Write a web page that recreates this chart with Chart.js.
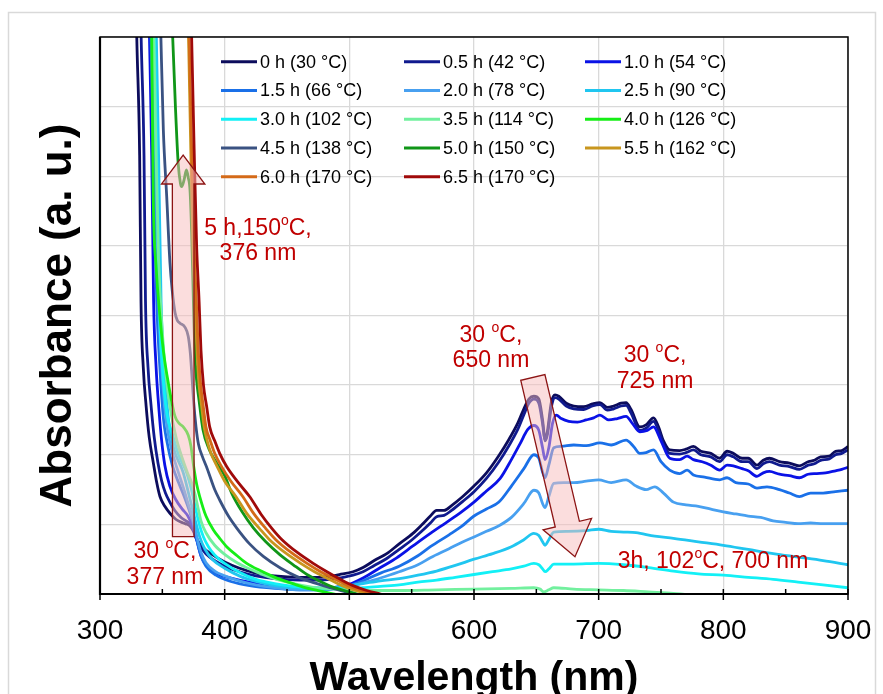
<!DOCTYPE html>
<html>
<head>
<meta charset="utf-8">
<script src="https://cdn.jsdelivr.net/npm/chart.js@4.4.1/dist/chart.umd.min.js"></script>
<style>
html, body { margin: 0; padding: 0; background: #fff; }
#wrap { width: 883px; height: 694px; }
</style>
</head>
<body>
<div id="wrap"><canvas id="absChart" width="883" height="694"></canvas></div>
<script>
// wavelength (nm) / absorbance (a. u.) pairs
const s0h = [[328.5,9],[329.5,8.0],[331.8,6.3],[332.9,4.2],[334.7,3.26],[337,2.7],[339.5,2.25],[342.8,1.88],[345.5,1.6],[348.1,1.40],[352,1.26],[356.1,1.16],[361,1.07],[366.8,1.02],[370,1.0],[372.5,0.97],[375,0.90],[377.6,0.78],[383,0.66],[388,0.59],[400,0.46],[412,0.37],[425,0.30],[440,0.26],[460,0.24],[475,0.24],[482,0.25],[492,0.28],[503,0.32],[511,0.38],[520,0.48],[530,0.58],[540,0.72],[551,0.87],[558,0.99],[565,1.12],[570,1.20],[576,1.20],[582,1.27],[591,1.40],[600,1.55],[610,1.74],[620,1.99],[628,2.22],[635,2.45],[641,2.70],[644,2.80],[648,2.84],[652,2.80],[655,2.50],[657,2.22],[659,2.35],[662,2.75],[665,2.86],[668,2.84],[674,2.74],[680,2.70],[688,2.69],[695,2.73],[701,2.75],[707,2.68],[712,2.70],[718,2.74],[722,2.75],[726,2.65],[733,2.40],[738,2.43],[744,2.53],[748,2.40],[752,2.20],[757,2.07],[765,2.06],[770,2.08],[776,2.12],[782,2.05],[790,2.02],[797,1.95],[803,2.05],[808,2.02],[815,1.95],[820,1.95],[827,1.85],[832,1.92],[837,1.95],[845,1.90],[853,1.88],[861,1.84],[868,1.90],[873,1.92],[878,1.97],[885,1.98],[890,2.05],[895,2.06],[900,2.12]];
const s05h = [[332,9],[333,8.0],[335.3,6.3],[336.5,4.2],[338.5,3.26],[341,2.7],[343.5,2.25],[346.5,1.88],[349.5,1.62],[352.5,1.45],[356,1.32],[360,1.20],[365,1.10],[369,1.05],[372.5,1.0],[375,0.92],[377.6,0.80],[383,0.62],[388,0.53],[400,0.40],[412,0.32],[425,0.26],[440,0.22],[460,0.20],[475,0.20],[485,0.21],[492,0.23],[503,0.27],[511,0.32],[520,0.41],[530,0.51],[540,0.64],[551,0.79],[558,0.90],[565,1.02],[570,1.11],[576,1.13],[582,1.20],[591,1.33],[600,1.47],[610,1.66],[620,1.90],[628,2.13],[635,2.36],[641,2.62],[644,2.74],[648,2.80],[652,2.74],[655,2.45],[657,2.20],[659,2.30],[662,2.68],[665,2.82],[668,2.80],[674,2.70],[680,2.66],[688,2.65],[695,2.70],[701,2.72],[707,2.64],[712,2.66],[718,2.70],[722,2.71],[726,2.60],[733,2.35],[738,2.38],[744,2.48],[748,2.35],[752,2.15],[757,2.02],[765,2.01],[770,2.03],[776,2.07],[782,2.00],[790,1.97],[797,1.90],[803,2.00],[808,1.97],[815,1.90],[820,1.90],[827,1.80],[832,1.87],[837,1.90],[845,1.85],[853,1.83],[861,1.79],[868,1.85],[873,1.87],[878,1.92],[885,1.94],[890,2.00],[895,2.02],[900,2.07]];
const s10h = [[338.5,9],[339.7,8.0],[341.5,6.3],[343,4.2],[345,3.26],[347.5,2.6],[349.4,2.21],[352,1.85],[356,1.55],[361,1.35],[366,1.22],[370.5,1.12],[374,0.98],[377.5,0.78],[381,0.55],[385,0.42],[393,0.30],[405,0.23],[420,0.17],[440,0.12],[460,0.09],[480,0.08],[490,0.10],[500,0.14],[511,0.23],[525,0.38],[538,0.52],[551,0.69],[565,0.87],[578,1.03],[590,1.18],[600,1.32],[610,1.48],[621,1.66],[630,1.93],[637,2.16],[643,2.36],[648,2.42],[652,2.35],[655,2.10],[657,1.93],[660,2.10],[663,2.45],[666,2.57],[670,2.52],[676,2.48],[683,2.47],[690,2.50],[696,2.53],[701,2.57],[708,2.50],[715,2.52],[722,2.55],[727,2.45],[733,2.33],[739,2.35],[744,2.40],[750,2.20],[757,1.95],[765,1.93],[771,1.98],[776,1.93],[783,1.90],[790,1.85],[797,1.78],[803,1.85],[808,1.84],[815,1.80],[820,1.77],[827,1.69],[832,1.74],[837,1.76],[845,1.72],[853,1.70],[861,1.67],[868,1.72],[875,1.73],[882,1.74],[890,1.77],[895,1.79],[900,1.82]];
const s15h = [[339.5,9],[340.8,8.0],[343,6.3],[345.5,4.2],[348,3.26],[351,2.5],[353.5,2.21],[358,1.85],[363,1.60],[368,1.38],[372,1.18],[375,1.0],[378,0.75],[381,0.55],[385,0.40],[393,0.27],[405,0.18],[420,0.12],[440,0.08],[460,0.06],[480,0.06],[490,0.08],[500,0.12],[511,0.19],[525,0.30],[540,0.40],[555,0.55],[565,0.68],[580,0.85],[590,0.97],[600,1.12],[610,1.22],[620,1.32],[630,1.55],[640,1.80],[648,2.0],[652,1.95],[655,1.75],[657,1.67],[660,1.85],[664,2.10],[670,2.12],[680,2.14],[690,2.13],[701,2.17],[710,2.14],[722,2.21],[728,2.12],[733,2.02],[738,2.03],[744,2.07],[750,1.90],[757,1.78],[765,1.73],[771,1.78],[776,1.71],[785,1.68],[797,1.64],[803,1.67],[810,1.60],[820,1.58],[827,1.52],[835,1.54],[845,1.50],[853,1.45],[861,1.40],[870,1.45],[880,1.45],[890,1.47],[900,1.49]];
const s20h = [[341,9],[342.2,8.0],[344.5,6.3],[347,4.2],[349.5,3.26],[353,2.5],[357,2.1],[363,1.74],[367,1.52],[371,1.28],[375,1.05],[378,0.80],[381,0.60],[385,0.45],[392,0.33],[400,0.26],[413,0.18],[425,0.13],[440,0.09],[460,0.06],[480,0.06],[490,0.08],[500,0.11],[511,0.16],[525,0.23],[540,0.32],[555,0.42],[565,0.52],[580,0.65],[590,0.74],[600,0.82],[610,0.90],[620,0.98],[630,1.10],[640,1.30],[648,1.49],[652,1.45],[655,1.30],[657,1.24],[660,1.40],[664,1.59],[672,1.60],[680,1.60],[690,1.62],[700,1.64],[710,1.60],[722,1.64],[730,1.55],[738,1.50],[745,1.54],[752,1.45],[760,1.32],[770,1.28],[780,1.26],[790,1.22],[800,1.18],[810,1.15],[820,1.12],[830,1.10],[840,1.05],[850,1.03],[860,1.01],[870,1.02],[880,1.01],[890,1.01],[900,1.01]];
const s25h = [[344,9],[345.2,8.0],[347,6.3],[349,4.2],[351.5,3.26],[355,2.5],[359,2.1],[366.8,1.74],[371,1.45],[374.5,1.2],[377.5,0.98],[380,0.82],[384,0.65],[390,0.50],[400,0.37],[413,0.25],[425,0.18],[440,0.12],[455,0.09],[470,0.08],[485,0.09],[500,0.12],[511,0.15],[525,0.19],[540,0.22],[555,0.27],[570,0.33],[585,0.41],[600,0.50],[615,0.58],[630,0.68],[640,0.78],[648,0.87],[652,0.84],[655,0.75],[657,0.70],[660,0.78],[664,0.89],[675,0.90],[690,0.91],[700,0.93],[710,0.90],[720,0.89],[730,0.88],[745,0.83],[760,0.80],[780,0.75],[800,0.70],[820,0.64],[840,0.58],[860,0.53],[880,0.48],[900,0.42]];
const s30h = [[342.5,9],[343.7,8.0],[345.5,6.3],[347.5,4.2],[350,3.26],[353.5,2.6],[358,2.3],[363,2.0],[369.5,1.74],[374,1.45],[377,1.2],[380,0.98],[383,0.82],[387,0.68],[392,0.56],[400,0.44],[413,0.30],[425,0.21],[440,0.15],[455,0.11],[470,0.09],[485,0.08],[500,0.08],[511,0.09],[525,0.11],[540,0.13],[555,0.17],[570,0.20],[585,0.24],[600,0.28],[615,0.32],[630,0.36],[640,0.40],[648,0.44],[652,0.42],[655,0.36],[657,0.32],[660,0.36],[664,0.43],[680,0.43],[700,0.44],[720,0.42],[740,0.38],[760,0.33],[780,0.29],[800,0.27],[820,0.24],[840,0.21],[860,0.17],[880,0.13],[900,0.09]];
const s35h = [[342,9],[343.2,8.0],[345,6.3],[347,4.8],[349.5,3.9],[352.5,3.2],[356,2.7],[361,2.25],[366,1.95],[370,1.75],[373.5,1.6],[376,1.45],[378.5,1.25],[381,1.05],[385,0.88],[392,0.70],[400,0.57],[410,0.45],[420,0.36],[435,0.25],[450,0.17],[470,0.10],[490,0.07],[510,0.05],[540,0.05],[570,0.06],[600,0.07],[630,0.08],[648,0.09],[653,0.07],[656,0.03],[660,0.06],[664,0.09],[680,0.07],[700,0.06],[720,0.05],[740,0.03],[760,0.01],[780,-0.02]];
const s40h = [[340.5,9],[341.4,8.1],[342.7,5.7],[345,4.7],[348.1,3.98],[350.8,3.5],[354.8,3.03],[360.2,2.55],[363.5,2.45],[366.8,2.40],[370.8,2.28],[373,2.12],[375,1.85],[377.5,1.58],[380,1.40],[385,1.12],[391,0.92],[396,0.80],[401.6,0.68],[410,0.55],[417.7,0.44],[428,0.34],[439,0.25],[451,0.17],[463,0.10],[475,0.05],[485,0.01],[495,-0.03]];
const s45h = [[348,8.6],[348.7,8.1],[350.8,6.67],[353.5,5.71],[356.1,4.76],[358,4.35],[360.2,4.04],[362,3.93],[364.2,3.89],[368.2,3.83],[370.8,3.70],[372.5,3.45],[373.5,3.2],[375,2.79],[377,2.40],[379,2.15],[382,1.98],[386,1.80],[392,1.50],[396,1.35],[403,1.12],[410,0.94],[420,0.72],[431,0.54],[445,0.37],[458,0.25],[472,0.16],[485,0.09],[495,0.04],[505,0.0],[515,-0.04]];
const s50h = [[357,8.8],[358.3,8.0],[360.5,7.0],[362.7,6.19],[364.5,5.9],[365.5,5.85],[367.5,5.95],[369.3,6.09],[370.8,5.98],[372.2,5.8],[373.5,5.2],[374.5,4.5],[376,3.5],[377.5,3.07],[379.4,2.79],[382.6,2.36],[387.5,2.08],[393.6,1.88],[400,1.70],[405.6,1.45],[414,1.18],[423,0.95],[433,0.75],[444,0.57],[455,0.42],[466,0.28],[478,0.17],[490,0.08],[500,0.03],[510,-0.02]];
const s55h = [[370,9],[371,8.0],[372.8,6.4],[374.5,5.0],[376.3,4.2],[377.8,3.5],[379.5,3.0],[381.5,2.7],[383.5,2.40],[386,2.20],[389,2.02],[394,1.83],[400,1.62],[409,1.40],[418,1.15],[428,0.94],[436,0.78],[448,0.60],[461,0.44],[472,0.32],[483,0.22],[494,0.12],[505,0.05],[515,0.0],[525,-0.05]];
const s60h = [[370.5,9],[371.5,8.0],[373.5,6.4],[375.5,5.0],[377.3,4.2],[378.8,3.5],[380.8,3.0],[382.8,2.7],[385,2.40],[388.5,2.20],[392,2.02],[397.5,1.83],[405,1.62],[414.5,1.40],[423.5,1.15],[433,0.94],[441,0.78],[453,0.60],[466,0.44],[477,0.32],[488,0.22],[499,0.12],[510,0.05],[520,0.0],[530,-0.05]];
const s65h = [[372.5,9],[373.5,8.0],[375.5,6.4],[377.5,5.0],[379.5,4.2],[381,3.5],[383,3.0],[385.5,2.7],[388,2.40],[392,2.20],[396,2.02],[401.6,1.83],[410,1.62],[420,1.40],[429,1.15],[438,0.94],[446,0.78],[458,0.60],[471,0.44],[482,0.32],[492,0.22],[503,0.12],[514,0.05],[525,0.0],[535,-0.05]];

const seriesLabels = ['0 h (30 °C)', '0.5 h (42 °C)', '1.0 h (54 °C)', '1.5 h (66 °C)', '2.0 h (78 °C)', '2.5 h (90 °C)', '3.0 h (102 °C)', '3.5 h (114 °C)', '4.0 h (126 °C)', '4.5 h (138 °C)', '5.0 h (150 °C)', '5.5 h (162 °C)', '6.0 h (170 °C)', '6.5 h (170 °C)'];
const seriesData = [s0h, s05h, s10h, s15h, s20h, s25h, s30h, s35h, s40h, s45h, s50h, s55h, s60h, s65h];
const xTickValues = [300, 400, 500, 600, 700, 800, 900];

const lineColors = ['#0c0c5c', '#101a8e', '#0a12e6', '#1a70e8', '#48a0f0', '#20c6f0', '#12f0f6', '#72f09e', '#16ee16', '#3a5282', '#109618', '#c8961e', '#d46a18', '#a00a0a'];

const FONT = '"Liberation Sans", Arial, sans-serif';
const noteRed = '#c00000';

// text notes placed at (wavelength, absorbance) of their first line
const notes = [
  { wl: 426.7, a: 5.275, gap: 25, lines: ['5 h,150^oC,', '376 nm'] },
  { wl: 352.1, a: 0.632, gap: 26, lines: ['30 ^oC,', '377 nm'] },
  { wl: 613.6, a: 3.734, gap: 25, lines: ['30 ^oC,', '650 nm'] },
  { wl: 745.2, a: 3.447, gap: 26, lines: ['30 ^oC,', '725 nm'] },
  { wl: 791.7, a: 0.488, gap: 25, lines: ['3h, 102^oC, 700 nm'] }
];
// block arrows: from (wl, a) to tip (wl, a)
const arrows = [
  { from: [366.8, 0.823], to: [366.7, 6.305], shaft: 10.8, head: 21.7, headLen: 29 },
  { from: [647.2, 3.11], to: [681.0, 0.536], shaft: 12.4, head: 24.9, headLen: 33.4 }
];

function drawRich(ctx, str, cx, cy, size) {
  const parts = str.split('^o');
  const small = Math.round(size * 0.6);
  const base = cy + size * 0.358;
  ctx.font = size + 'px ' + FONT;
  const widths = parts.map(p => ctx.measureText(p).width);
  ctx.font = small + 'px ' + FONT;
  const ow = ctx.measureText('o').width;
  let total = widths.reduce((s, w) => s + w, 0) + ow * (parts.length - 1);
  let xx = cx - total / 2;
  ctx.textAlign = 'left';
  ctx.textBaseline = 'alphabetic';
  parts.forEach((p, k) => {
    ctx.font = size + 'px ' + FONT;
    ctx.fillText(p, xx, base);
    xx += widths[k];
    if (k < parts.length - 1) {
      ctx.font = small + 'px ' + FONT;
      ctx.fillText('o', xx, base - (0.716 * size - 0.52 * small) - 1);
      xx += ow;
    }
  });
}

function drawBlockArrow(ctx, sx, sy, tx, ty, sh, hh, hl) {
  const dx = tx - sx, dy = ty - sy;
  const len = Math.sqrt(dx * dx + dy * dy);
  const ux = dx / len, uy = dy / len;
  const nx = -uy, ny = ux;
  const bx = tx - ux * hl, by = ty - uy * hl;
  ctx.beginPath();
  ctx.moveTo(sx + nx * sh, sy + ny * sh);
  ctx.lineTo(bx + nx * sh, by + ny * sh);
  ctx.lineTo(bx + nx * hh, by + ny * hh);
  ctx.lineTo(tx, ty);
  ctx.lineTo(bx - nx * hh, by - ny * hh);
  ctx.lineTo(bx - nx * sh, by - ny * sh);
  ctx.lineTo(sx - nx * sh, sy - ny * sh);
  ctx.closePath();
  ctx.fillStyle = 'rgba(248, 188, 188, 0.5)';
  ctx.fill();
  ctx.strokeStyle = '#8c1414';
  ctx.lineWidth = 1.3;
  ctx.stroke();
}

const decorPlugin = {
  id: 'decor',
  beforeDraw(chart) {
    const ctx = chart.ctx;
    ctx.save();
    ctx.fillStyle = '#fff';
    ctx.fillRect(0, 0, chart.width, chart.height);
    ctx.strokeStyle = '#d9d9d9';
    ctx.lineWidth = 1.5;
    ctx.strokeRect(8.5, 12.5, 867, 700);
    ctx.restore();
  },
  afterDatasetsDraw(chart) {
    const ctx = chart.ctx;
    const a = chart.chartArea;
    const xs = chart.scales.x, ys = chart.scales.y;
    ctx.save();

    arrows.forEach(ar => {
      drawBlockArrow(ctx,
        xs.getPixelForValue(ar.from[0]), ys.getPixelForValue(ar.from[1]),
        xs.getPixelForValue(ar.to[0]), ys.getPixelForValue(ar.to[1]),
        ar.shaft, ar.head, ar.headLen);
    });

    // plot frame
    ctx.strokeStyle = '#000';
    ctx.lineWidth = 1.5;
    ctx.strokeRect(a.left, a.top, a.right - a.left, a.bottom - a.top);
    ctx.lineWidth = 2.2;
    ctx.beginPath();
    ctx.moveTo(a.left, a.top);
    ctx.lineTo(a.left, a.bottom);
    ctx.lineTo(a.right, a.bottom);
    ctx.stroke();

    // x ticks: major crossing, minor inside
    ctx.lineWidth = 1.5;
    for (let v = 300; v <= 900; v += 50) {
      const px = xs.getPixelForValue(v);
      ctx.beginPath();
      ctx.moveTo(px, a.bottom - 5);
      ctx.lineTo(px, v % 100 === 0 ? a.bottom + 6 : a.bottom);
      ctx.stroke();
    }

    ctx.fillStyle = '#000';
    ctx.font = '28px ' + FONT;
    ctx.textAlign = 'center';
    ctx.textBaseline = 'alphabetic';
    xTickValues.forEach(v => {
      ctx.fillText(String(v), xs.getPixelForValue(v), a.bottom + 44.5);
    });

    // axis titles
    ctx.font = 'bold 41px ' + FONT;
    ctx.fillText('Wavelength (nm)', (a.left + a.right) / 2, 690);
    ctx.save();
    ctx.translate(71, (a.top + a.bottom) / 2);
    ctx.rotate(-Math.PI / 2);
    ctx.font = 'bold 44px ' + FONT;
    ctx.fillText('Absorbance (a. u.)', 0, 0);
    ctx.restore();

    // legend, three columns inside the plot
    const colOffsets = [121, 304, 485];
    ctx.font = '18px ' + FONT;
    ctx.textAlign = 'left';
    ctx.textBaseline = 'middle';
    seriesLabels.forEach((lab, i) => {
      const lx = a.left + colOffsets[i % 3];
      const ly = a.top + 24.7 + Math.floor(i / 3) * 28.75;
      ctx.strokeStyle = lineColors[i];
      ctx.lineWidth = 3;
      ctx.beginPath();
      ctx.moveTo(lx, ly);
      ctx.lineTo(lx + 36, ly);
      ctx.stroke();
      ctx.fillStyle = '#000';
      ctx.fillText(lab, lx + 39, ly + 1);
    });

    // red notes
    ctx.fillStyle = noteRed;
    notes.forEach(n => {
      const cx = xs.getPixelForValue(n.wl);
      const cy = ys.getPixelForValue(n.a);
      n.lines.forEach((ln, k) => drawRich(ctx, ln, cx, cy + k * n.gap, 23));
    });

    ctx.restore();
  }
};

const datasets = seriesData.map((pts, i) => ({
  label: seriesLabels[i],
  data: pts.map(p => ({ x: p[0], y: p[1] })),
  borderColor: lineColors[i],
  backgroundColor: lineColors[i],
  borderWidth: 2.8,
  pointRadius: 0,
  fill: false,
  cubicInterpolationMode: 'monotone',
  order: seriesData.length - i
}));

new Chart(document.getElementById('absChart'), {
  type: 'line',
  data: { datasets: datasets },
  options: {
    responsive: false,
    animation: false,
    devicePixelRatio: 1,
    layout: { padding: { left: 100, right: 35, top: 37, bottom: 0 } },
    plugins: { legend: { display: false }, tooltip: { enabled: false } },
    scales: {
      x: {
        type: 'linear', min: 300, max: 900,
        ticks: { stepSize: 100, display: false },
        grid: { color: '#d9d9d9', lineWidth: 1.3, drawTicks: false },
        border: { display: false },
        afterFit(s) { s.height = 100; }
      },
      y: {
        min: 0, max: 8,
        ticks: { stepSize: 1, display: false },
        grid: { color: '#d9d9d9', lineWidth: 1.3, drawTicks: false },
        border: { display: false },
        afterFit(s) { s.width = 0; }
      }
    }
  },
  plugins: [decorPlugin]
});
</script>
</body>
</html>
